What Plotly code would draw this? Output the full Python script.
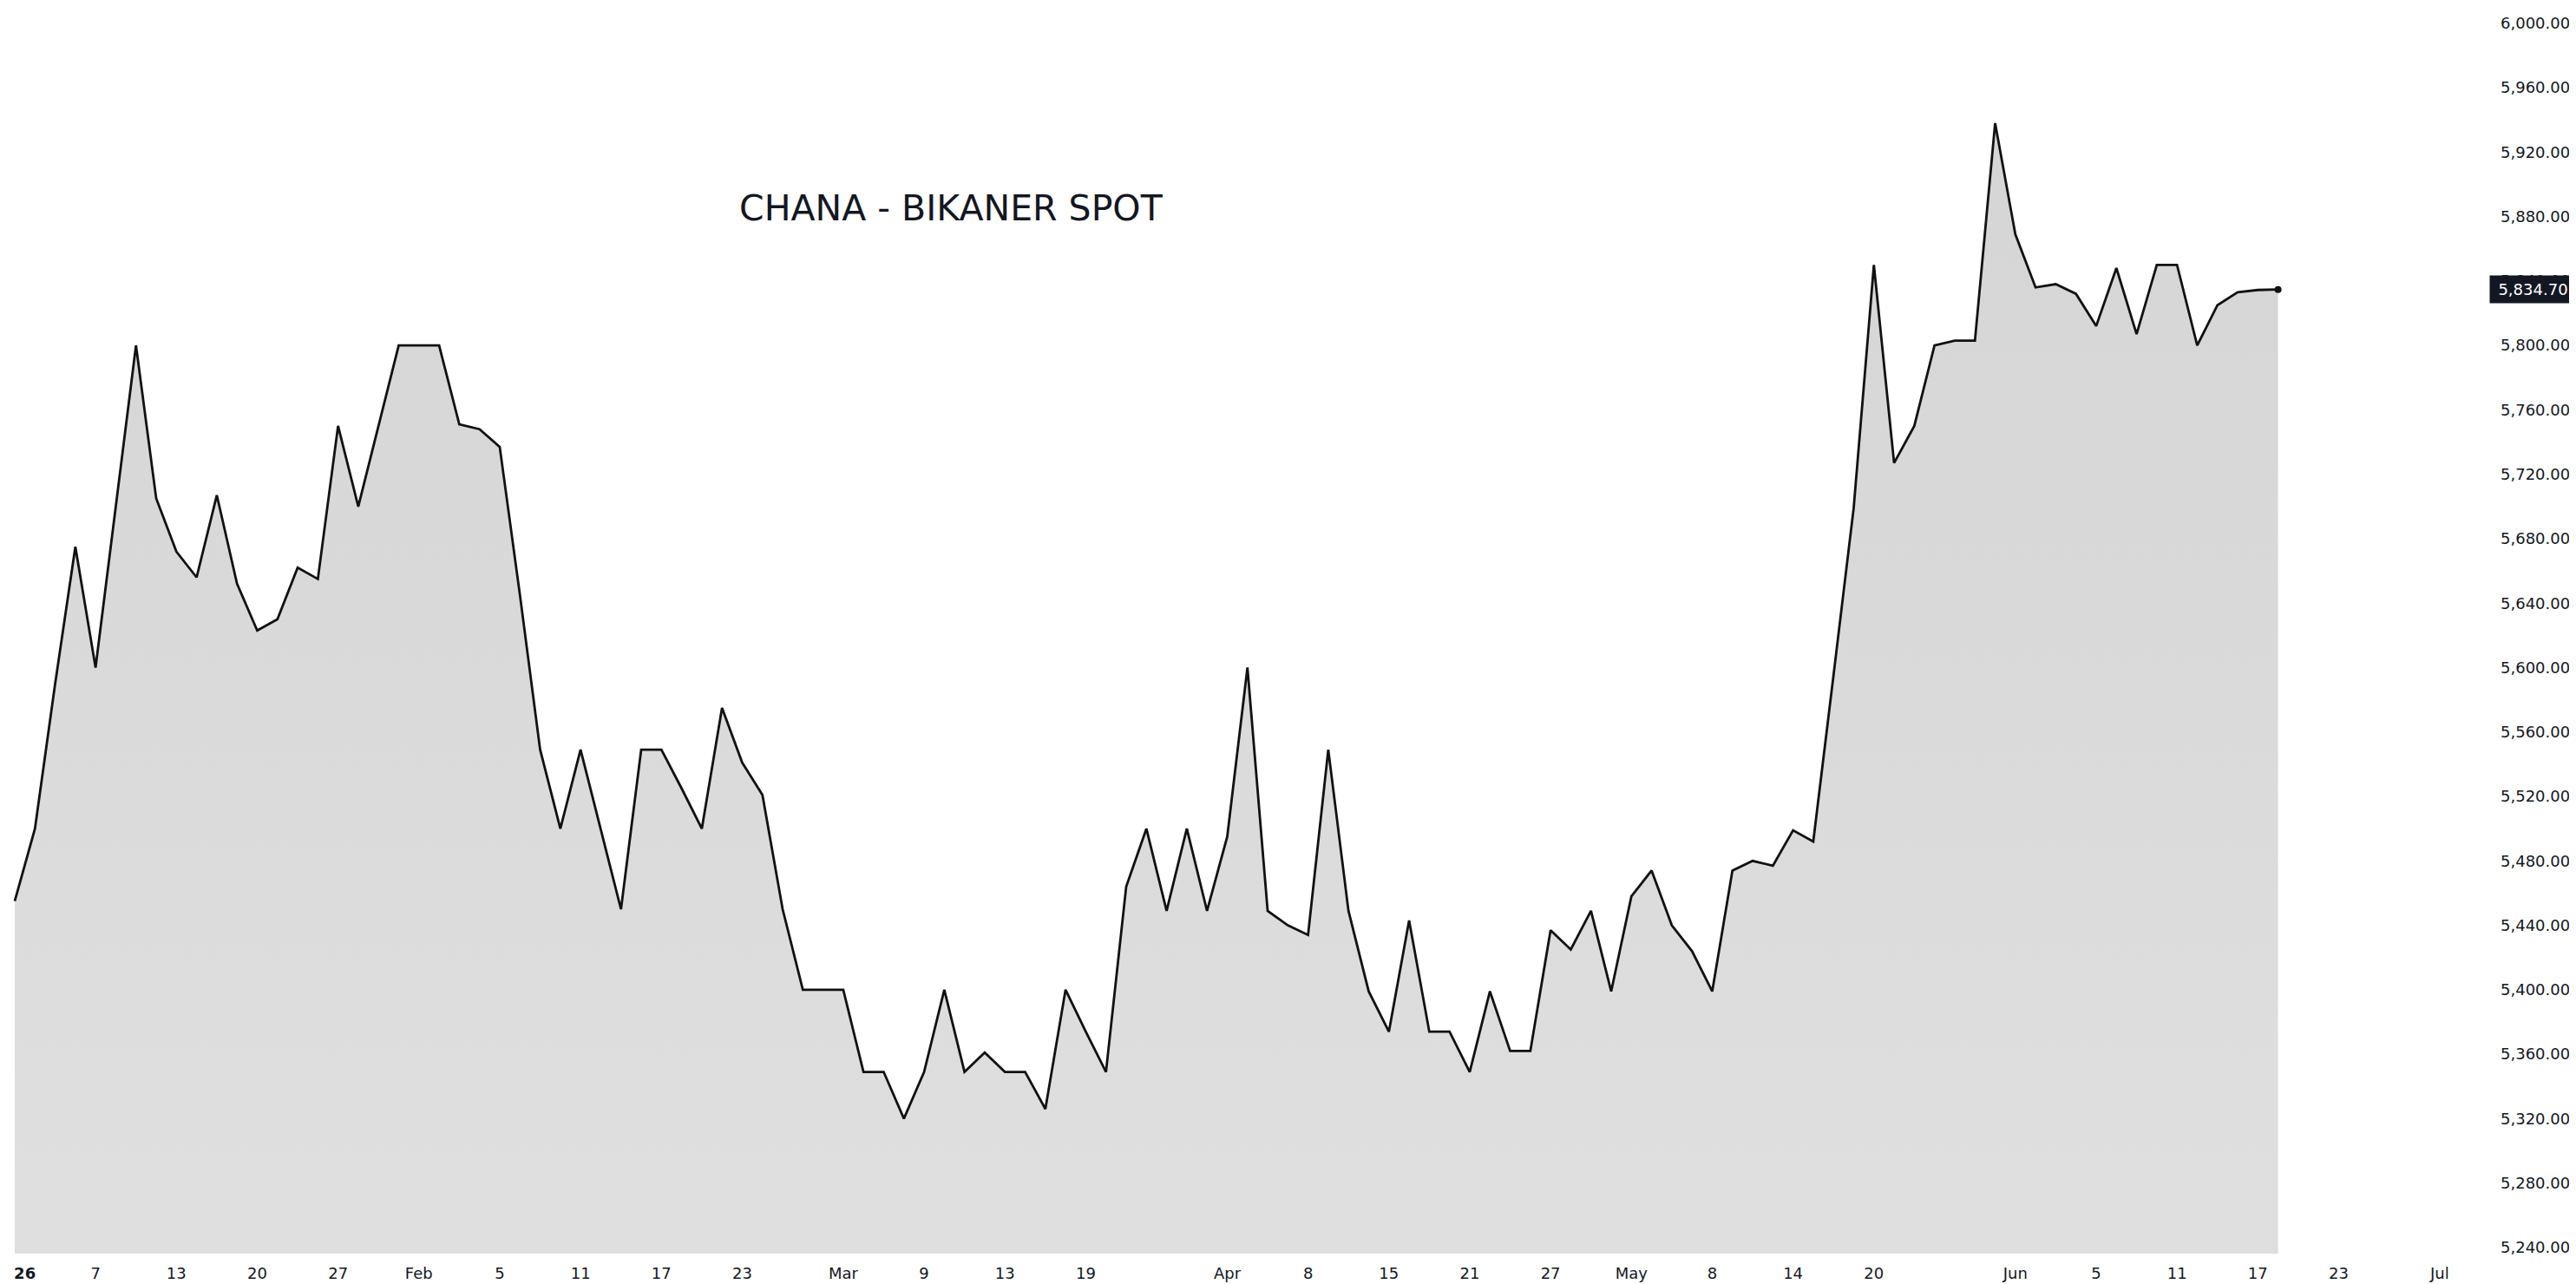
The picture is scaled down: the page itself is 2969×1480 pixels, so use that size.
import plotly.graph_objects as go

# Daily spot price (bar index based, as on the original time scale)
prices = [
    5455, 5500, 5590, 5675, 5600, 5700, 5800, 5705, 5672, 5656,
    5707, 5652, 5623, 5630, 5662, 5655, 5750, 5700, 5750, 5800,
    5800, 5800, 5751, 5748, 5737, 5645, 5549, 5500, 5549, 5500,
    5450, 5549, 5549, 5525, 5500, 5575, 5541, 5521, 5450, 5400,
    5400, 5400, 5349, 5349, 5320, 5349, 5400, 5349, 5361, 5349,
    5349, 5326, 5400, 5374, 5349, 5464, 5500, 5449, 5500, 5449,
    5495, 5600, 5449, 5440, 5434, 5549, 5449, 5399, 5374, 5443,
    5374, 5374, 5349, 5399, 5362, 5362, 5437, 5425, 5449, 5399,
    5458, 5474, 5440, 5424, 5399, 5474, 5480, 5477, 5499, 5492,
    5595, 5699, 5850, 5727, 5750, 5800, 5803, 5803, 5938, 5869,
    5836, 5838, 5832, 5812, 5848, 5807, 5850, 5850, 5800, 5825,
    5833, 5834.4, 5834.7,
]
bars = list(range(len(prices)))

# first label ("26" = year 2026) is nudged right so it stays inside the pane
tick_bars = [0.5, 4, 8, 12, 16, 20, 24, 28, 32, 36, 41, 45, 49, 53, 60, 64, 68,
             72, 76, 80, 84, 88, 92, 99, 103, 107, 111, 115, 120]
tick_labels = ["<b>26</b>", "7", "13", "20", "27", "Feb", "5", "11", "17", "23",
               "Mar", "9", "13", "19", "Apr", "8", "15", "21", "27", "May", "8",
               "14", "20", "Jun", "5", "11", "17", "23", "Jul"]

price_ticks = [5240 + 40 * k for k in range(20)]

title_text = "CHANA - BIKANER SPOT"
last_price = prices[-1]

FONT = "DejaVu Sans"

fig = go.Figure()
fig.add_trace(go.Scatter(
    x=bars, y=prices, mode="lines",
    line=dict(color="#111111", width=2.8),
    fill="tozeroy",
    fillgradient=dict(type="vertical",
                      colorscale=[[0, "#dfdfdf"], [1, "#d5d5d5"]],
                      start=5236, stop=5940),
    hoverinfo="skip", showlegend=False,
))
fig.add_trace(go.Scatter(
    x=[bars[-1]], y=[last_price], mode="markers",
    marker=dict(color="#111111", size=8),
    hoverinfo="skip", showlegend=False,
))

fig.update_layout(
    width=2961, height=1472,
    margin=dict(l=0, r=107, t=0, b=35, autoexpand=False),
    paper_bgcolor="white", plot_bgcolor="white",
    font=dict(family=FONT, size=18, color="#131722"),
    xaxis=dict(
        range=[-0.386, 122.15], automargin=False,
        tickmode="array", tickvals=tick_bars, ticktext=tick_labels,
        showgrid=False, zeroline=False, showline=False, ticks="",
        ticklabelstandoff=10,
        tickfont=dict(family=FONT, size=18, color="#131722"),
    ),
    yaxis=dict(
        range=[5236.2, 6010.1], side="right", automargin=False,
        tickmode="array", tickvals=price_ticks, tickformat=",.2f",
        showgrid=False, zeroline=False, showline=False, ticks="",
        ticklabelstandoff=19,
        tickfont=dict(family=FONT, size=18, color="#131722"),
    ),
    annotations=[
        dict(text=title_text, xref="paper", yref="paper",
             x=0.295, y=0.8386, xanchor="left", yanchor="middle",
             showarrow=False,
             font=dict(family=FONT, size=41, color="#131722")),
        dict(text=f"{last_price:,.2f}", xref="paper", yref="y",
             x=1, y=last_price, xanchor="left", yanchor="middle",
             xshift=7, showarrow=False, bgcolor="#131722",
             width=95, height=27, borderpad=2,
             font=dict(family=FONT, size=18, color="white")),
    ],
)

fig.write_html("out.html")
